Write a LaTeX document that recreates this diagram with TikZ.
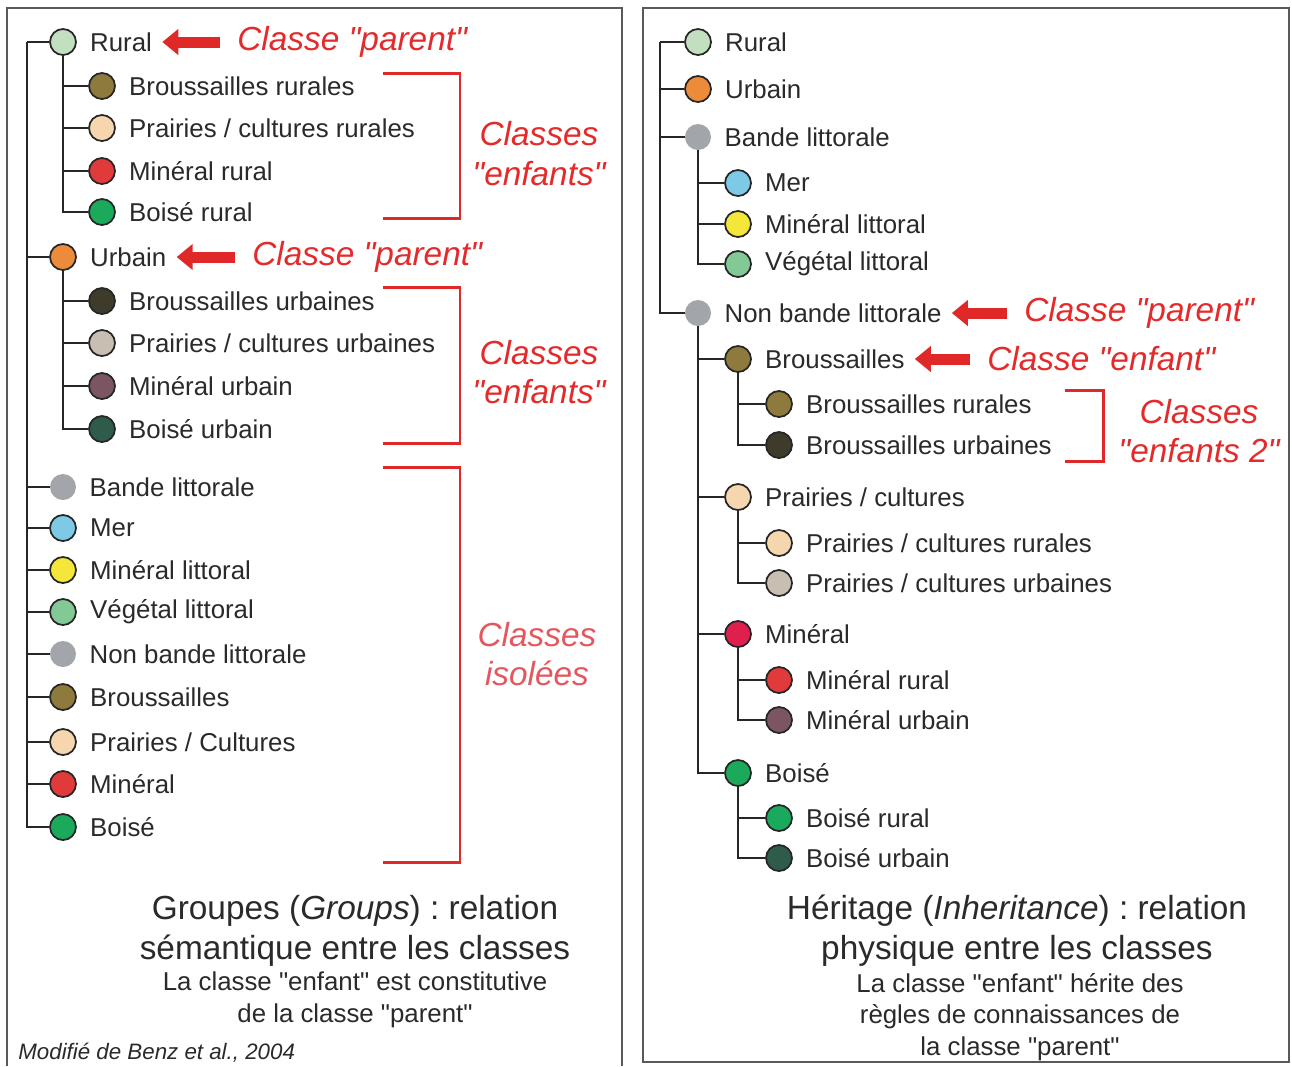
\documentclass[tikz,border=0pt]{standalone}
\usepackage{fontspec}
\setmainfont{Liberation Sans}[Ligatures=TeXOff]
\usetikzlibrary{positioning,arrows.meta}

\definecolor{cRural}{HTML}{C2DFC0}
\definecolor{cUrbain}{HTML}{EC8B3A}
\definecolor{cBrous}{HTML}{8E7A3C}
\definecolor{cPrai}{HTML}{F6D6AE}
\definecolor{cMin}{HTML}{E03A3A}
\definecolor{cMinH}{HTML}{E0204C}
\definecolor{cBois}{HTML}{1BAA5C}
\definecolor{cBrousU}{HTML}{3E3B2A}
\definecolor{cPraiU}{HTML}{C9BEB2}
\definecolor{cMinU}{HTML}{7B5662}
\definecolor{cBoisU}{HTML}{2F5B4A}
\definecolor{cGray}{HTML}{A2A6AA}
\definecolor{cMer}{HTML}{7EC9E6}
\definecolor{cMinLit}{HTML}{F4E73A}
\definecolor{cVegLit}{HTML}{82C995}
\definecolor{redline}{HTML}{E02828}
\definecolor{redtxt}{HTML}{E42A2A}
\definecolor{redpale}{HTML}{E5575F}
\definecolor{inkgray}{HTML}{2A2A2A}

\newcommand{\lblfont}{\fontsize{14.7}{17}\selectfont}
\newcommand{\notefont}{\fontsize{19}{22.7}\selectfont}
\newcommand{\subfont}{\fontsize{14.7}{18.1}\selectfont}
\newcommand{\srcfont}{\fontsize{12.7}{15}\selectfont}

\begin{document}
\frenchspacing
\begin{tikzpicture}[x=0.02cm, y=-0.02cm, node distance=0.26cm,
    dot/.style={draw=black!85, circle, line width=1pt, minimum size=0.52cm, inner sep=0},
    gdot/.style={circle, fill=cGray, minimum size=0.52cm, inner sep=0},
    lbl/.style={inner sep=0, font=\lblfont, text=inkgray},
    note/.style={anchor=west, inner sep=0, font=\notefont\itshape, text=redtxt},
    notes/.style={align=center, inner sep=0, font=\notefont\itshape, text=redtxt},
    branch/.style={line width=1.1pt, black!85},
    brack/.style={line width=1.7pt, redline},
    bigarrow/.style={-{Triangle[length=0.32cm, width=0.5cm]}, line width=0.22cm, redline,
        shorten <=0.34cm, shorten >=0.2cm},
    ttl/.style={align=center, inner sep=0, font=\notefont, text=inkgray},
    subttl/.style={align=center, inner sep=0, font=\subfont, text=inkgray}]

    \useasboundingbox (0,0) rectangle (1292,1066);
    \fill[white] (0,0) rectangle (1292,1066);

    % panels
    \draw[line width=1.2pt, black!65] (7,1066) -- (7,8) -- (622,8) -- (622,1066);
    \draw[line width=1.2pt, black!65] (643,8) rectangle (1289,1062);

    % ---------- Groupes ----------
    \coordinate (groot) at (27,42);

    \node[dot, fill=cRural] (gRural) at (63,42) {};
    \node[lbl, right=of gRural] (gRuralT) {Rural};
    \node[dot, fill=cBrous] (gBrousR) at (102,86) {};
    \node[lbl, right=of gBrousR] (gBrousRT) {Broussailles rurales};
    \node[dot, fill=cPrai] (gPraiR) at (102,128) {};
    \node[lbl, right=of gPraiR] (gPraiRT) {Prairies / cultures rurales};
    \node[dot, fill=cMin] (gMinR) at (102,171) {};
    \node[lbl, right=of gMinR] (gMinRT) {Minéral rural};
    \node[dot, fill=cBois] (gBoisR) at (102,212) {};
    \node[lbl, right=of gBoisR] (gBoisRT) {Boisé rural};

    \node[dot, fill=cUrbain] (gUrbain) at (63,257) {};
    \node[lbl, right=of gUrbain] (gUrbainT) {Urbain};
    \node[dot, fill=cBrousU] (gBrousU) at (102,301) {};
    \node[lbl, right=of gBrousU] (gBrousUT) {Broussailles urbaines};
    \node[dot, fill=cPraiU] (gPraiU) at (102,343) {};
    \node[lbl, right=of gPraiU] (gPraiUT) {Prairies / cultures urbaines};
    \node[dot, fill=cMinU] (gMinU) at (102,386) {};
    \node[lbl, right=of gMinU] (gMinUT) {Minéral urbain};
    \node[dot, fill=cBoisU] (gBoisU) at (102,429) {};
    \node[lbl, right=of gBoisU] (gBoisUT) {Boisé urbain};

    \node[gdot] (gBande) at (63,487) {};
    \node[lbl, right=of gBande] (gBandeT) {Bande littorale};
    \node[dot, fill=cMer] (gMer) at (63,528) {};
    \node[lbl, right=of gMer] (gMerT) {Mer};
    \node[dot, fill=cMinLit] (gMinLit) at (63,570) {};
    \node[lbl, right=of gMinLit] (gMinLitT) {Minéral littoral};
    \node[dot, fill=cVegLit] (gVegLit) at (63,612) {};
    \node[lbl, right=of gVegLit] (gVegLitT) {Végétal littoral};
    \node[gdot] (gNon) at (63,654) {};
    \node[lbl, right=of gNon] (gNonT) {Non bande littorale};
    \node[dot, fill=cBrous] (gBrous) at (63,697) {};
    \node[lbl, right=of gBrous] (gBrousT) {Broussailles};
    \node[dot, fill=cPrai] (gPrai) at (63,742) {};
    \node[lbl, right=of gPrai] (gPraiT) {Prairies / Cultures};
    \node[dot, fill=cMin] (gMin) at (63,784) {};
    \node[lbl, right=of gMin] (gMinT) {Minéral};
    \node[dot, fill=cBois] (gBois) at (63,827) {};
    \node[lbl, right=of gBois] (gBoisT) {Boisé};

    \foreach \n in {gRural, gUrbain, gBande, gMer, gMinLit, gVegLit, gNon, gBrous, gPrai, gMin, gBois}
        \draw[branch] (groot) |- (\n.west);
    \foreach \n in {gBrousR, gPraiR, gMinR, gBoisR}
        \draw[branch] (gRural.south) |- (\n.west);
    \foreach \n in {gBrousU, gPraiU, gMinU, gBoisU}
        \draw[branch] (gUrbain.south) |- (\n.west);

    % notes
    \node[note] (gPar1) at (237,42) {Classe "parent"};
    \draw[bigarrow] (gPar1.west) -- (gRuralT.east);
    \node[note] (gPar2) at (252,257) {Classe "parent"};
    \draw[bigarrow] (gPar2.west) -- (gUrbainT.east);

    \draw[brack] (383,73) -- (460,73) -- (460,218) -- (383,218);
    \draw[brack] (383,287) -- (460,287) -- (460,443) -- (383,443);
    \draw[brack] (383,467) -- (460,467) -- (460,862) -- (383,862);
    \node[notes] (gEnf1) at (539,154) {Classes\\"enfants"};
    \node[notes] (gEnf2) at (539,372) {Classes\\"enfants"};
    \node[notes, text=redpale] (gIso) at (537,654) {Classes\\isolées};

    \node[ttl] (gTitle) at (355,931) {Groupes (\textit{Groups}) : relation\\sémantique entre les classes};
    \node[subttl] (gSub) at (355,1000) {La classe "enfant" est constitutive\\de la classe "parent"};
    \node[anchor=west, inner sep=0, font=\srcfont\itshape, text=inkgray] (gSrc) at (18,1053) {Modifié de Benz et al., 2004};

    % ---------- Heritage ----------
    \coordinate (hroot) at (660,42);

    \node[dot, fill=cRural] (hRural) at (698,42) {};
    \node[lbl, right=of hRural] (hRuralT) {Rural};
    \node[dot, fill=cUrbain] (hUrbain) at (698,89) {};
    \node[lbl, right=of hUrbain] (hUrbainT) {Urbain};
    \node[gdot] (hBande) at (698,137) {};
    \node[lbl, right=of hBande] (hBandeT) {Bande littorale};
    \node[dot, fill=cMer] (hMer) at (738,183) {};
    \node[lbl, right=of hMer] (hMerT) {Mer};
    \node[dot, fill=cMinLit] (hMinLit) at (738,224) {};
    \node[lbl, right=of hMinLit] (hMinLitT) {Minéral littoral};
    \node[dot, fill=cVegLit] (hVegLit) at (738,264) {};
    \node[lbl, right=of hVegLit] (hVegLitT) {Végétal littoral};
    \node[gdot] (hNon) at (698,313) {};
    \node[lbl, right=of hNon] (hNonT) {Non bande littorale};

    \node[dot, fill=cBrous] (hBrous) at (738,359) {};
    \node[lbl, right=of hBrous] (hBrousT) {Broussailles};
    \node[dot, fill=cBrous] (hBrousR) at (779,404) {};
    \node[lbl, right=of hBrousR] (hBrousRT) {Broussailles rurales};
    \node[dot, fill=cBrousU] (hBrousU) at (779,445) {};
    \node[lbl, right=of hBrousU] (hBrousUT) {Broussailles urbaines};

    \node[dot, fill=cPrai] (hPrai) at (738,497) {};
    \node[lbl, right=of hPrai] (hPraiT) {Prairies / cultures};
    \node[dot, fill=cPrai] (hPraiR) at (779,543) {};
    \node[lbl, right=of hPraiR] (hPraiRT) {Prairies / cultures rurales};
    \node[dot, fill=cPraiU] (hPraiU) at (779,583) {};
    \node[lbl, right=of hPraiU] (hPraiUT) {Prairies / cultures urbaines};

    \node[dot, fill=cMinH] (hMin) at (738,634) {};
    \node[lbl, right=of hMin] (hMinT) {Minéral};
    \node[dot, fill=cMin] (hMinR) at (779,680) {};
    \node[lbl, right=of hMinR] (hMinRT) {Minéral rural};
    \node[dot, fill=cMinU] (hMinU) at (779,720) {};
    \node[lbl, right=of hMinU] (hMinUT) {Minéral urbain};

    \node[dot, fill=cBois] (hBois) at (738,773) {};
    \node[lbl, right=of hBois] (hBoisT) {Boisé};
    \node[dot, fill=cBois] (hBoisR) at (779,818) {};
    \node[lbl, right=of hBoisR] (hBoisRT) {Boisé rural};
    \node[dot, fill=cBoisU] (hBoisU) at (779,858) {};
    \node[lbl, right=of hBoisU] (hBoisUT) {Boisé urbain};

    \foreach \n in {hRural, hUrbain, hBande, hNon}
        \draw[branch] (hroot) |- (\n.west);
    \foreach \n in {hMer, hMinLit, hVegLit}
        \draw[branch] (hBande.south) |- (\n.west);
    \foreach \n in {hBrous, hPrai, hMin, hBois}
        \draw[branch] (hNon.south) |- (\n.west);
    \draw[branch] (hBrous.south) |- (hBrousR.west);
    \draw[branch] (hBrous.south) |- (hBrousU.west);
    \draw[branch] (hPrai.south) |- (hPraiR.west);
    \draw[branch] (hPrai.south) |- (hPraiU.west);
    \draw[branch] (hMin.south) |- (hMinR.west);
    \draw[branch] (hMin.south) |- (hMinU.west);
    \draw[branch] (hBois.south) |- (hBoisR.west);
    \draw[branch] (hBois.south) |- (hBoisU.west);

    % notes
    \node[note] (hPar) at (1024,313) {Classe "parent"};
    \draw[bigarrow] (hPar.west) -- (hNonT.east);
    \node[note] (hEnf) at (987,359) {Classe "enfant"};
    \draw[bigarrow] (hEnf.west) -- (hBrousT.east);
    \draw[brack] (1065,390) -- (1103,390) -- (1103,461) -- (1065,461);
    \node[notes] (hEnf2) at (1199,431) {Classes\\"enfants 2"};

    \node[ttl] (hTitle) at (1017,931) {Héritage (\textit{Inheritance}) : relation\\physique entre les classes};
    \node[subttl] (hSub) at (1020,1017) {La classe "enfant" hérite des\\règles de connaissances de\\la classe "parent"};

\end{tikzpicture}
\end{document}
